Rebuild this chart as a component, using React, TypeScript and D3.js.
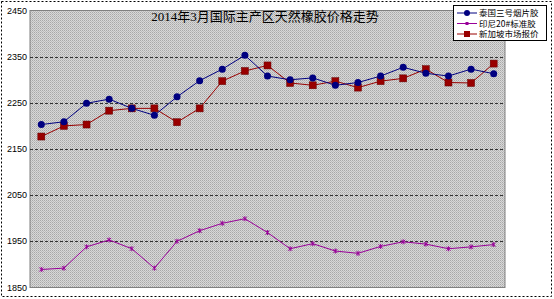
import React from "react";
import * as d3 from "d3";

const categories = Array.from({ length: 21 }, (_, i) => `D${i + 1}`);
const yTicks = [1850, 1950, 2050, 2150, 2250, 2350, 2450];
const seriesNames = ["泰国三号烟片胶", "印尼20#标准胶", "新加坡市场报价"];
const thai = [2203, 2209, 2249, 2258, 2238, 2223, 2263, 2298, 2323, 2353, 2308, 2300, 2304, 2288, 2294, 2308, 2327, 2314, 2308, 2323, 2313];
const indo = [1889, 1892, 1938, 1953, 1934, 1892, 1950, 1973, 1989, 1999, 1969, 1934, 1945, 1929, 1924, 1939, 1949, 1944, 1934, 1938, 1943];
const sing = [2177, 2200, 2203, 2233, 2238, 2238, 2208, 2238, 2297, 2319, 2331, 2293, 2288, 2297, 2283, 2297, 2303, 2323, 2294, 2293, 2335];
const title = "2014年3月国际主产区天然橡胶价格走势";

export default function App() {
  const W = 554, H = 299;
  const left = 30, right = 505, top = 10.5, bottom = 287.5;
  const x = d3.scaleBand<string>().domain(categories).range([left, right]);
  const y = d3.scaleLinear().domain([1850, 2450]).range([bottom, top]);
  const cx = (i: number) => (x(categories[i]) as number) + x.bandwidth() / 2;
  const line = d3.line<number>().x((_, i) => cx(i)).y((v) => y(v));
  const blue = "#000080", red = "#990000", purple = "#990099";
  const font = "Liberation Sans, Arial, sans-serif";
  return (
    <svg width={W} height={H} style={{ position: "absolute", left: 0, top: 0, background: "#fff" }}>
      <defs>
        <pattern id="dots" width="2" height="2" patternUnits="userSpaceOnUse">
          <rect width="2" height="2" fill="#d8d8d8" />
          <rect width="1" height="1" fill="#a8a8a8" />
          <rect x="1" y="1" width="1" height="1" fill="#bcbcbc" />
        </pattern>
      </defs>
      <rect x={1.5} y={1.5} width={W - 4} height={H - 4} fill="#fff" stroke="#000" strokeDasharray="2,2" />
      <rect x={left} y={top} width={right - left} height={bottom - top} fill="url(#dots)" stroke="#808080" />
      {yTicks.map((t) => (
        <g key={t}>
          {t !== 1850 && t !== 2450 && (
            <line x1={left} x2={right} y1={Math.round(y(t)) + 0.5} y2={Math.round(y(t)) + 0.5} stroke="#333" strokeDasharray="3,2" />
          )}
          <text x={27} y={y(t) + 3} textAnchor="end" fontFamily={font} fontSize={9} fill="#000">{t}</text>
        </g>
      ))}
      <text x={265} y={21} textAnchor="middle" fontFamily="Liberation Serif, Noto Sans CJK SC, serif" fontSize={13} fill="#000">{title}</text>
      <path d={line(sing) || ""} fill="none" stroke={red} strokeWidth={1} />
      <path d={line(thai) || ""} fill="none" stroke={blue} strokeWidth={1} />
      <path d={line(indo) || ""} fill="none" stroke={purple} strokeWidth={1} />
      {sing.map((v, i) => (
        <rect key={"s" + i} x={cx(i) - 3.5} y={y(v) - 3.5} width={7} height={7} fill={red} stroke="#600" strokeWidth={0.5} />
      ))}
      {thai.map((v, i) => (
        <circle key={"t" + i} cx={cx(i)} cy={y(v)} r={3.5} fill={blue} />
      ))}
      {indo.map((v, i) => (
        <g key={"i" + i} stroke={purple} strokeWidth={1}>
          <line x1={cx(i) - 2} x2={cx(i) + 2} y1={y(v) - 2} y2={y(v) + 2} />
          <line x1={cx(i) - 2} x2={cx(i) + 2} y1={y(v) + 2} y2={y(v) - 2} />
          <line x1={cx(i)} x2={cx(i)} y1={y(v) - 2.5} y2={y(v) + 2.5} />
        </g>
      ))}
      <g>
        <rect x={453.5} y={5.5} width={93} height={35} fill="#fff" stroke="#000" />
        {seriesNames.map((n, k) => {
          const yy = 13 + k * 10.5;
          const col = [blue, purple, red][k];
          return (
            <g key={n}>
              <line x1={457} x2={477} y1={yy} y2={yy} stroke={col} />
              {k === 0 && <circle cx={467} cy={yy} r={3} fill={blue} />}
              {k === 1 && <rect x={465.5} y={yy - 1.5} width={3} height={3} fill={purple} />}
              {k === 2 && <rect x={464} y={yy - 3} width={6} height={6} fill={red} />}
              <text x={479} y={yy + 3} fontFamily="Noto Sans CJK SC, sans-serif" fontSize={8.5} fill="#000">{n}</text>
            </g>
          );
        })}
      </g>
    </svg>
  );
}
